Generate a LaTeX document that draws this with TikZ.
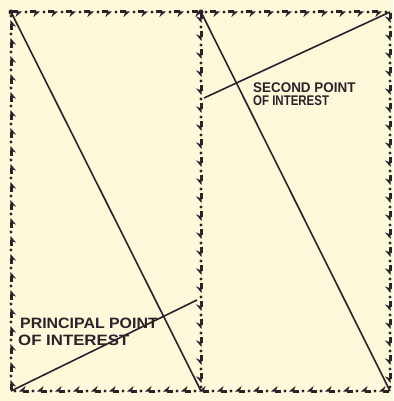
\documentclass[tikz,border=0pt]{standalone}
\usepackage{fontspec}
\setsansfont{Liberation Sans}
\usetikzlibrary{arrows.meta,decorations.markings}
\definecolor{paper}{RGB}{252,248,217}
\definecolor{ink}{RGB}{43,34,41}
\tikzset{
  frameside/.style={decorate,decoration={markings,
      mark=between positions 11pt and 1 step 18pt with {
        \draw[ink,line width=3pt,-{Stealth[harpoon,swap,length=6pt,width=10pt]}] (-10pt,0) -- (0,0);
        \fill[ink] (4pt,0) circle (1.7pt);}}},
  sightline/.style={ink,line width=1.6pt},
  caption/.style={ink,anchor=base west,inner sep=0pt}
}
\begin{document}
\begin{tikzpicture}[x=1pt,y=-1pt]
    \fill[paper] (0,0) rectangle (393,401);
    \useasboundingbox (0,0) rectangle (393,401);

    % frame corners
    \coordinate (tl) at (11,12);
    \coordinate (tm) at (201,12);
    \coordinate (tr) at (390,12);
    \coordinate (bl) at (11,391);
    \coordinate (bm) at (201,391);
    \coordinate (br) at (390,391);

    % dashed frame, running round
    \path[frameside] (bl) -- (tl);
    \path[frameside] (tl) -- (tr);
    \path[frameside] (tm) -- (bm);
    \path[frameside] (tr) -- (br);
    \path[frameside] (br) -- (bl);
    \fill[ink] (tl) circle (2.5pt);
    \fill[ink] (tm) circle (2.5pt);

    % left panel
    \coordinate (lp) at (197,300);
    \draw[sightline] (tl) -- (bm);
    \draw[sightline] (bl) -- (lp);
    \node[caption,font=\sffamily\bfseries\fontsize{15}{17}\selectfont,xscale=1.06] (princ) at (20,328) {PRINCIPAL POINT};
    \node[caption,font=\sffamily\bfseries\fontsize{15}{17}\selectfont,xscale=1.12] (princb) at (18,345) {OF INTEREST};

    % right panel
    \coordinate (rp) at (204,98);
    \draw[sightline] (tm) -- (br);
    \draw[sightline] (rp) -- (tr);
    \node[caption,font=\sffamily\bfseries\fontsize{14}{16}\selectfont,xscale=0.96] (second) at (253,93) {SECOND POINT};
    \node[caption,font=\sffamily\bfseries\fontsize{14}{16}\selectfont,xscale=0.82] (secondb) at (253,106) {OF INTEREST};
\end{tikzpicture}
\end{document}
